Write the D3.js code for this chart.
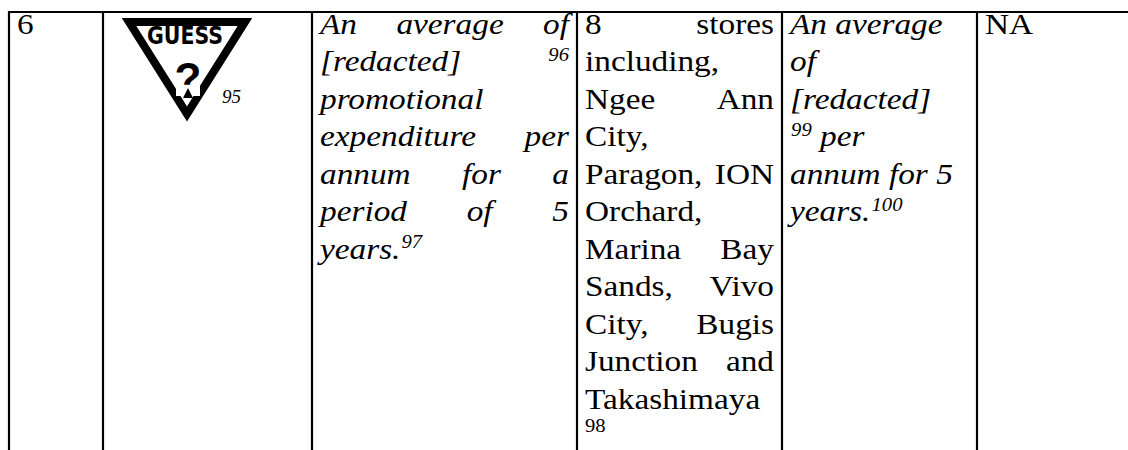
<!DOCTYPE html>
<html>
<head>
<meta charset="utf-8">
<script src="https://cdn.jsdelivr.net/npm/d3@7"></script>
<style>
body { margin: 0; background: #fff; }
text { font-family: 'Liberation Serif', 'Times New Roman', serif; fill: #000; }
</style>
</head>
<body>
<svg width="1128" height="450"></svg>
<script>
// cell contents, one array per column. '^' starts a superscript
var rowNumber = [['6']]
var logoWord = 'GUESS'
var logoNote = '95'
var expenditureLines = [
    ['An', 'average', 'of'],
    ['[redacted]', '^96'],
    ['promotional'],
    ['expenditure', 'per'],
    ['annum', 'for', 'a'],
    ['period', 'of', '5'],
    ['years.^97']
]
var storeLines = [
    ['8', 'stores'],
    ['including,'],
    ['Ngee', 'Ann'],
    ['City,'],
    ['Paragon,', 'ION'],
    ['Orchard,'],
    ['Marina', 'Bay'],
    ['Sands,', 'Vivo'],
    ['City,', 'Bugis'],
    ['Junction', 'and'],
    ['Takashimaya']
]
var storeNote = '98'
var revenueLines = [
    ['An', 'average'],
    ['of'],
    ['[redacted]'],
    ['^99', 'per'],
    ['annum', 'for', '5'],
    ['years.^100']
]
var otherLines = [['NA']]

var svg = d3.select('svg')
var font_size = 30
var sx = 1.11
var pad = 8

var columnKeys = ['no', 'mark', 'expenditure', 'stores', 'revenue', 'other']
var edges = [9, 103, 312, 577, 782, 977, 1180]
var colX = d3.scaleOrdinal().domain(columnKeys).range(edges.slice(0, 6))
var colEnd = d3.scaleOrdinal().domain(columnKeys).range(edges.slice(1))
// baseline of each text line in a cell
var lineY = d3.scaleLinear().domain([0, 1]).range([34, 71.5])

function drawCell(key, lines, italic, justify) {
    var left = colX(key) + pad
    var width = (colEnd(key) - pad - left) / sx
    var g = svg.append('g')
        .attr('transform', 'translate(' + left + ',0) scale(' + sx + ',1)')
        .style('font-style', italic ? 'italic' : 'normal')
        .style('font-size', font_size + 'px')
    var space = font_size * 0.25
    lines.forEach(function(words, i) {
        var y = lineY(i)
        var lg = g.append('g')
        var pieces = words.map(function(w) {
            var parts = w.split('^')
            var wg = lg.append('g')
            var wd = 0
            if (parts[0]) {
                var t = wg.append('text').attr('y', y).text(parts[0])
                wd += t.node().getComputedTextLength()
            }
            if (parts[1]) {
                var s = wg.append('text')
                    .attr('x', wd + 1)
                    .attr('y', y - font_size * 0.36)
                    .style('font-size', (font_size * 0.62) + 'px')
                    .text(parts[1])
                wd += 1 + s.node().getComputedTextLength()
            }
            return {g: wg, w: wd}
        })
        var total = d3.sum(pieces, function(p) { return p.w })
        var last = i === lines.length - 1
        var gap = space
        if (justify && !last && pieces.length > 1) gap = (width - total) / (pieces.length - 1)
        var cx = 0
        pieces.forEach(function(p) {
            p.g.attr('transform', 'translate(' + cx + ',0)')
            cx += p.w + gap
        })
    })
    return g
}

drawCell('no', rowNumber, false, false)
drawCell('expenditure', expenditureLines, true, true)
var stores = drawCell('stores', storeLines, false, true)
stores.append('text')
    .attr('y', lineY(storeLines.length - 1) + 23)
    .style('font-size', (font_size * 0.62) + 'px')
    .text(storeNote)
drawCell('revenue', revenueLines, true, false)
drawCell('other', otherLines, false, false)

// trade mark picture
var logo = svg.append('g')
logo.append('path')
    .attr('d', 'M129,22 L245,22 L187,114 Z')
    .attr('fill', 'none')
    .attr('stroke', '#000')
    .attr('stroke-width', 8)
    .attr('stroke-linejoin', 'miter')
logo.append('text')
    .attr('x', 147).attr('y', 44)
    .attr('textLength', 76)
    .attr('lengthAdjust', 'spacingAndGlyphs')
    .style('font-family', "'Liberation Sans Narrow', 'DejaVu Sans Condensed', sans-serif")
    .style('font-weight', 'bold')
    .style('font-size', '25px')
    .text(logoWord)
logo.append('text')
    .attr('x', 188).attr('y', 94)
    .attr('text-anchor', 'middle')
    .style('font-family', "'Liberation Sans', sans-serif")
    .style('font-weight', 'bold')
    .style('font-size', '44px')
    .text('?')
logo.append('rect')
    .attr('x', 176).attr('y', 86).attr('width', 24).attr('height', 10)
    .attr('fill', '#fff')
logo.append('path')
    .attr('d', 'M183,98 L193,98 L188,88 Z')
    .attr('fill', '#000')
svg.append('text')
    .attr('x', 222).attr('y', 103)
    .style('font-style', 'italic')
    .style('font-size', '19px')
    .text(logoNote)

// table rules
svg.append('line')
    .attr('x1', 8).attr('x2', 1128)
    .attr('y1', 12).attr('y2', 12)
    .attr('stroke', '#000').attr('stroke-width', 2.2)
svg.selectAll('.rule')
    .data(columnKeys)
    .enter().append('line')
    .attr('class', 'rule')
    .attr('x1', function(d) { return colX(d) })
    .attr('x2', function(d) { return colX(d) })
    .attr('y1', 11).attr('y2', 450)
    .attr('stroke', '#000').attr('stroke-width', 2.2)
</script>
</body>
</html>
